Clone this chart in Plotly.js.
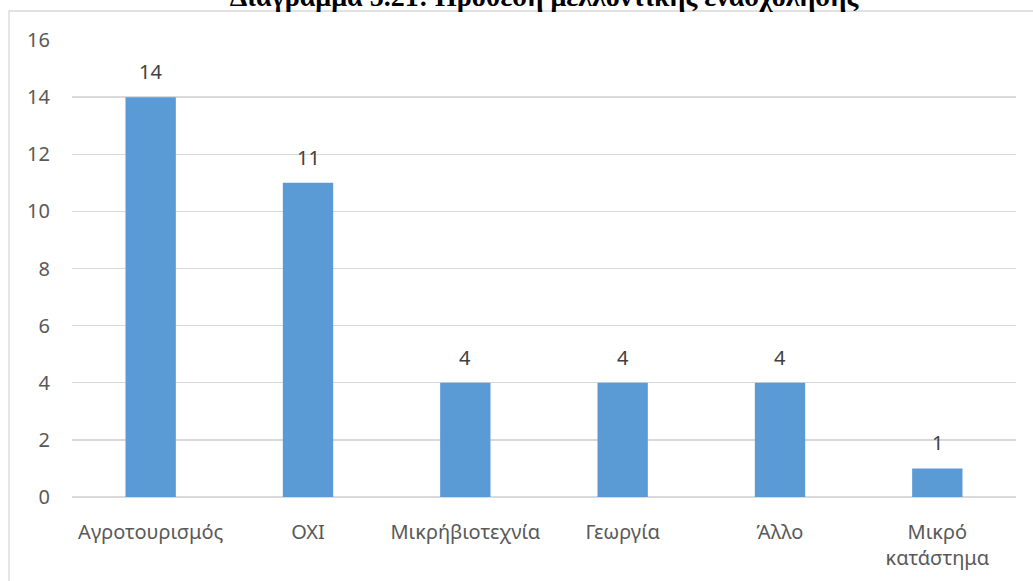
<!DOCTYPE html>
<html><head><meta charset="utf-8">
<script src="https://cdn.plot.ly/plotly-3.0.1.min.js"></script>
<style>html,body{margin:0;padding:0;background:#fff;}#c{width:1033px;height:581px;}</style>
</head><body><div id="c"></div>
<script>
const categories = ["Αγροτουρισμός", "ΟΧΙ", "Μικρήβιοτεχνία", "Γεωργία", "Άλλο", "Μικρό<br>κατάστημα"];
const values = [14, 11, 4, 4, 4, 1];
const yTicks = [0, 2, 4, 6, 8, 10, 12, 14, 16];
const titleText = "Διάγραμμα 5.21: Πρόθεση μελλοντικής ενασχόλησης";

const trace = {
  type: 'bar', x: categories, y: values,
  marker: {color: '#5B9BD5'},
  hoverinfo: 'none'
};
const labels = categories.map((c, i) => ({
  x: c, y: values[i], xref: 'x', yref: 'y', text: String(values[i]),
  showarrow: false, yanchor: 'bottom', yshift: 10,
  font: {family: 'Noto Sans, sans-serif', size: 20, color: '#404040'}
}));
const layout = {
  width: 1033, height: 581,
  margin: {l: 72, r: 17, t: 40, b: 84},
  paper_bgcolor: '#fff', plot_bgcolor: '#fff',
  showlegend: false, bargap: 0.68,
  title: {text: '<b>' + titleText + '</b>', font: {family: 'Liberation Serif, serif', size: 28, color: '#000'},
          xref: 'paper', x: 0.5, xanchor: 'center', yref: 'container', y: 1 - 6/581, yanchor: 'bottom'},
  xaxis: {showgrid: false, zeroline: false, showline: false, ticks: '', ticklabelstandoff: 21,
          tickfont: {family: 'Noto Sans, sans-serif', size: 20, color: '#595959'}},
  yaxis: {range: [0, 16], tickvals: yTicks, ticktext: yTicks.map(String), showgrid: true, gridcolor: '#D9D9D9', gridwidth: 1.3,
          zeroline: true, zerolinecolor: '#D9D9D9', zerolinewidth: 1.3, showline: false, ticks: '', ticklabelstandoff: 21,
          tickfont: {family: 'Noto Sans, sans-serif', size: 20, color: '#595959'}},
  annotations: labels,
  shapes: [{type: 'rect', xref: 'paper', yref: 'paper', x0: -0.0667, x1: 1.2, y0: -0.5, y1: 1.0635,
            line: {color: '#D9D9D9', width: 1.3}, fillcolor: 'rgba(0,0,0,0)', layer: 'below'}]
};
Plotly.newPlot('c', [trace], layout, {displayModeBar: false, staticPlot: true});
</script></body></html>
